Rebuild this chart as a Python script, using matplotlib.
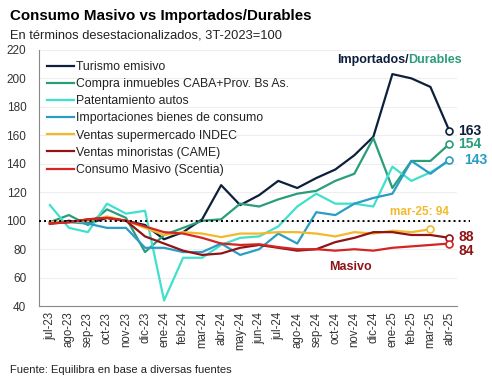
import numpy as np
import matplotlib.pyplot as plt

plt.rcParams["font.family"] = ["Liberation Sans", "DejaVu Sans"]

months = ["jul-23", "ago-23", "sep-23", "oct-23", "nov-23", "dic-23", "ene-24", "feb-24",
          "mar-24", "abr-24", "may-24", "jun-24", "jul-24", "ago-24", "sep-24", "oct-24",
          "nov-24", "dic-24", "ene-25", "feb-25", "mar-25", "abr-25"]

turismo = [98, 100, 98, 102, 100, 97, 87, 92, 101, 125, 111, 118, 128, 123, 130, 136,
           146, 159, 203, 200, 194, 163]
compra = [99, 104, 97, 108, 102, 78, 90, 95, 100, 101, 112, 110, 115, 119, 121, 128,
          133, 158, 123, 142, 142, 154]
autos = [111, 95, 92, 112, 105, 107, 44, 74, 74, 83, 88, 89, 96, 110, 119, 112,
         112, 110, 138, 128, 134, 142]
importaciones = [99, 99, 98, 95, 95, 81, 81, 78, 78, 84, 76, 80, 91, 84, 106, 104,
                 112, 116, 119, 142, 133, 143]
supermercado = [99, 99, 100, 103, 100, 95, 90, 92, 91, 88.5, 91, 91, 92, 92, 91, 89,
                92, 91, 93, 92, 94, np.nan]
came = [98, 99, 101, 102, 100, 89, 84, 79, 76, 77, 81, 83, 81, 79, 80, 85,
        88, 92, 92, 90, 90, 88]
scentia = [98, 99, 101, 102, 100, 96, 92, 91, 88, 84, 83, 83.5, 81.5, 80, 80, 79,
           80, 79, 81, 82, 83, 84]

series = [
    ("Turismo emisivo", turismo, "#0d1f3c"),
    ("Compra inmuebles CABA+Prov. Bs As.", compra, "#2a9d7a"),
    ("Patentamiento autos", autos, "#3fe0cc"),
    ("Importaciones bienes de consumo", importaciones, "#2b9cc4"),
    ("Ventas supermercado INDEC", supermercado, "#f2b92a"),
    ("Ventas minoristas (CAME)", came, "#8e1418"),
    ("Consumo Masivo (Scentia)", scentia, "#d42424"),
]

fig = plt.figure(figsize=(4.92, 3.78), dpi=100)
ax = fig.add_axes([0.079, 0.19, 0.85, 0.678])
x = np.arange(len(months))

for name, vals, col in series:
    ax.plot(x, vals, color=col, lw=1.6, label=name, zorder=3)

ax.axhline(100, color="black", ls=(0, (1, 1.6)), lw=1.4, zorder=4, xmax=1.03, clip_on=False)

# end markers
ends = [(turismo, "#0d1f3c", 21), (compra, "#2a9d7a", 21), (importaciones, "#2b9cc4", 21),
        (supermercado, "#f2b92a", 20), (came, "#8e1418", 21), (scentia, "#d42424", 21)]
for vals, col, i in ends:
    ax.plot(x[i], vals[i], "o", ms=5, mfc="white", mec=col, mew=1.2, zorder=5)

ax.text(21.45, 163, "163", color="#0d1f3c", fontsize=10, fontweight="bold", va="center")
ax.text(21.45, 154, "154", color="#2a9d7a", fontsize=10, fontweight="bold", va="center")
ax.text(21.75, 143, "143", color="#2b9cc4", fontsize=10, fontweight="bold", va="center")
ax.text(21.45, 88.5, "88", color="#8e1418", fontsize=10, fontweight="bold", va="center")
ax.text(21.45, 78.5, "84", color="#8e1418", fontsize=10, fontweight="bold", va="center")
ax.text(17.9, 106, "mar-25: 94", color="#f2b92a", fontsize=8.5, fontweight="bold", va="center")
ax.text(14.7, 67.5, "Masivo", color="#8e1418", fontsize=9, fontweight="bold", va="center")

t1 = ax.text(15.1, 211, "Importados/", color="#0d1f3c", fontsize=9, fontweight="bold",
             va="baseline")
ax.annotate("Durables", xycoords=t1, xy=(1, 0), xytext=(-0.5, 0), textcoords="offset points",
            va="bottom", color="#2a9d7a", fontsize=9, fontweight="bold")

ax.set_xlim(-0.58, 21.4)
ax.set_ylim(40, 220)
ax.set_yticks(range(40, 221, 20))
ax.set_xticks(x)
ax.set_xticklabels(months, rotation=90, fontsize=8.3, color="#333333")
ax.tick_params(axis="y", labelsize=8.5, length=0, pad=9, colors="#333333")
ax.tick_params(axis="x", length=0, pad=4)
ax.grid(axis="y", color="#eeeeee", lw=0.8, zorder=0)
for s in ["top", "right"]:
    ax.spines[s].set_visible(False)
ax.spines["left"].set_color("#888888")
ax.spines["bottom"].set_color("#888888")

ax.legend(loc="upper left", bbox_to_anchor=(0.0, 0.99), frameon=False, fontsize=8.8,
          handlelength=2.2, handletextpad=0.15, labelspacing=0.42, borderaxespad=0.3,
          labelcolor="#222222")

fig.text(0.02, 0.957, "Consumo Masivo vs Importados/Durables", fontsize=10.9,
         fontweight="bold", va="center")
fig.text(0.02, 0.905, "En términos desestacionalizados, 3T-2023=100", fontsize=9.3,
         va="center", color="#222222")
fig.text(0.02, 0.02, "Fuente: Equilibra en base a diversas fuentes", fontsize=8,
         va="center", color="#222222")

fig.savefig("out.png", dpi=100)
